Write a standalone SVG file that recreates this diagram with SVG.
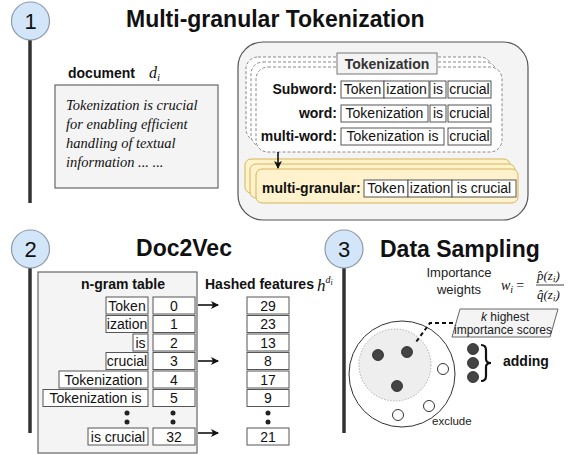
<svg xmlns="http://www.w3.org/2000/svg" width="570" height="455" viewBox="0 0 570 455">
<defs>
<style>
.sans{font-family:"Liberation Sans",Arial,sans-serif;}
.serif{font-family:"Liberation Serif","Times New Roman",serif;}
.title{font-family:"Liberation Sans",Arial,sans-serif;font-weight:bold;font-size:23px;fill:#111;}
.num{font-family:"Liberation Sans",Arial,sans-serif;font-size:22px;fill:#111;text-anchor:middle;}
.step{fill:#d3e5f8;stroke:#8c9aab;stroke-width:1.2;}
.spine{stroke:#333;stroke-width:3.5;fill:none;}
.lbl{font-family:"Liberation Sans",Arial,sans-serif;font-weight:bold;font-size:14px;fill:#111;}
.tok{fill:#fff;stroke:#555;stroke-width:1;}
.tt{font-family:"Liberation Sans",Arial,sans-serif;font-size:14px;fill:#111;text-anchor:middle;}
.gray{fill:#f4f4f4;stroke:#666;stroke-width:1.2;}
.dash{fill:#fff;stroke:#888;stroke-width:1;stroke-dasharray:3 2;}
.yel{fill:#fff2cc;stroke:#d6b656;stroke-width:1;}
.math{font-family:"Liberation Serif","Times New Roman",serif;font-style:italic;fill:#111;}
.conn{stroke:#111;stroke-width:1.6;fill:none;}
.dark{fill:#444;stroke:#222;stroke-width:0.8;}
.wdot{fill:#fff;stroke:#333;stroke-width:1;}
</style>
<marker id="ah" markerWidth="8" markerHeight="8" refX="7" refY="4" orient="auto" markerUnits="userSpaceOnUse">
<path d="M0,0 L8,4 L0,8 L2,4 Z" fill="#111"/>
</marker>
</defs>

<!-- Section 1 -->
<g id="step1">
<line class="spine" x1="30" y1="40" x2="30" y2="203"/>
<circle class="step" cx="30.5" cy="21" r="19"/>
<text class="num" x="30.5" y="29">1</text>
</g>
<text class="title" x="126" y="27">Multi-granular Tokenization</text>

<g id="document">
<text class="lbl" x="68" y="78" font-size="13">document</text>
<text class="math" x="149" y="78" font-size="16">d<tspan font-size="11" dy="3">i</tspan></text>
<rect class="gray" x="55" y="85" width="163" height="103"/>
<text class="math" font-size="14.5" x="66" y="110">Tokenization is crucial</text>
<text class="math" font-size="14.5" x="66" y="129">for enabling efficient</text>
<text class="math" font-size="14.5" x="66" y="148">handling of textual</text>
<text class="math" font-size="14.5" x="66" y="167">information ... ...</text>
</g>

<g id="tokenizer">
<rect x="238" y="42" width="290" height="178" rx="25" fill="#f4f4f4" stroke="#555" stroke-width="1.2"/>
<rect class="dash" x="246" y="57" width="246" height="84" rx="12"/>
<rect class="dash" x="251" y="62" width="246" height="85" rx="12"/>
<rect class="dash" x="256" y="67" width="246" height="85" rx="12"/>
<rect x="337" y="53" width="100" height="21" fill="#f4f4f4" stroke="#777" stroke-width="1"/>
<text class="lbl" x="387" y="69" text-anchor="middle" fill="#333" style="fill:#333">Tokenization</text>

<text class="lbl" x="337" y="94" text-anchor="end">Subword:</text>
<rect class="tok" x="341" y="81" width="43" height="17"/><text class="tt" x="362.5" y="94">Token</text>
<rect class="tok" x="384" y="81" width="45" height="17"/><text class="tt" x="406.5" y="94">ization</text>
<rect class="tok" x="430" y="81" width="16" height="17"/><text class="tt" x="438" y="94">is</text>
<rect class="tok" x="448" y="81" width="43" height="17"/><text class="tt" x="469.5" y="94">crucial</text>

<text class="lbl" x="337" y="118" text-anchor="end">word:</text>
<rect class="tok" x="341" y="105" width="87" height="17"/><text class="tt" x="384.5" y="118">Tokenization</text>
<rect class="tok" x="430" y="105" width="16" height="17"/><text class="tt" x="438" y="118">is</text>
<rect class="tok" x="448" y="105" width="43" height="17"/><text class="tt" x="469.5" y="118">crucial</text>

<text class="lbl" x="337" y="141" text-anchor="end">multi-word:</text>
<rect class="tok" x="341" y="128" width="103" height="17"/><text class="tt" x="392.5" y="141">Tokenization is</text>
<rect class="tok" x="448" y="128" width="43" height="17"/><text class="tt" x="469.5" y="141">crucial</text>

<rect class="yel" x="245" y="159" width="265" height="34" rx="6"/>
<rect class="yel" x="250" y="164" width="265" height="34" rx="6"/>
<rect class="yel" x="256" y="169" width="262" height="34" rx="6"/>
<text class="lbl" x="262" y="193">multi-granular:</text>
<rect class="tok" x="364" y="180" width="44" height="17"/><text class="tt" x="386" y="193">Token</text>
<rect class="tok" x="408" y="180" width="44" height="17"/><text class="tt" x="430" y="193">ization</text>
<rect class="tok" x="452" y="180" width="64" height="17"/><text class="tt" x="484" y="193">is crucial</text>
</g>

<!-- Section 2 -->
<g id="step2">
<line class="spine" x1="30" y1="268" x2="30" y2="433"/>
<circle class="step" cx="30.5" cy="249" r="19"/>
<text class="num" x="30.5" y="257">2</text>
</g>
<text class="title" x="184" y="256" text-anchor="middle">Doc2Vec</text>

<g id="ngram-table">
<rect class="gray" x="38" y="272" width="159" height="181"/>
<text class="lbl" x="123" y="289" text-anchor="middle" font-size="13">n-gram table</text>
<rect class="tok" x="106" y="297" width="42" height="17"/><text class="tt" x="127" y="310.5">Token</text>
<rect class="tok" x="106" y="315.5" width="42" height="17"/><text class="tt" x="127" y="329">ization</text>
<rect class="tok" x="133" y="334" width="15" height="17"/><text class="tt" x="140.5" y="347.5">is</text>
<rect class="tok" x="106" y="352.5" width="42" height="17"/><text class="tt" x="127" y="366">crucial</text>
<rect class="tok" x="59" y="371" width="89" height="17"/><text class="tt" x="103.5" y="384.5">Tokenization</text>
<rect class="tok" x="43" y="389.5" width="105" height="17"/><text class="tt" x="95.5" y="403">Tokenization is</text>
<rect class="tok" x="88" y="428" width="60" height="17"/><text class="tt" x="118" y="441.5">is crucial</text>
<circle cx="127" cy="413" r="2.5" fill="#222"/><circle cx="127" cy="422" r="2.5" fill="#222"/>

<rect class="tok" x="153" y="297" width="42" height="17"/><text class="tt" x="174" y="310.5">0</text>
<rect class="tok" x="153" y="315.5" width="42" height="17"/><text class="tt" x="174" y="329">1</text>
<rect class="tok" x="153" y="334" width="42" height="17"/><text class="tt" x="174" y="347.5">2</text>
<rect class="tok" x="153" y="352.5" width="42" height="17"/><text class="tt" x="174" y="366">3</text>
<rect class="tok" x="153" y="371" width="42" height="17"/><text class="tt" x="174" y="384.5">4</text>
<rect class="tok" x="153" y="389.5" width="42" height="17"/><text class="tt" x="174" y="403">5</text>
<rect class="tok" x="153" y="428" width="42" height="17"/><text class="tt" x="174" y="441.5">32</text>
<circle cx="173" cy="413" r="2.5" fill="#222"/><circle cx="173" cy="422" r="2.5" fill="#222"/>
</g>

<g id="hashed-features">
<text class="lbl" x="205" y="289" font-size="13">Hashed features</text>
<text class="math" x="317" y="291" font-size="17">h<tspan font-size="10" dy="-8">d</tspan><tspan font-size="8" dy="2">i</tspan></text>
<rect class="tok" x="247" y="297" width="42" height="17"/><text class="tt" x="268" y="310.5">29</text>
<rect class="tok" x="247" y="315.5" width="42" height="17"/><text class="tt" x="268" y="329">23</text>
<rect class="tok" x="247" y="334" width="42" height="17"/><text class="tt" x="268" y="347.5">13</text>
<rect class="tok" x="247" y="352.5" width="42" height="17"/><text class="tt" x="268" y="366">8</text>
<rect class="tok" x="247" y="371" width="42" height="17"/><text class="tt" x="268" y="384.5">17</text>
<rect class="tok" x="247" y="389.5" width="42" height="17"/><text class="tt" x="268" y="403">9</text>
<rect class="tok" x="247" y="428" width="42" height="17"/><text class="tt" x="268" y="441.5">21</text>
<circle cx="268" cy="413" r="2.5" fill="#222"/><circle cx="268" cy="422" r="2.5" fill="#222"/>
</g>

<!-- Section 3 -->
<g id="step3">
<line class="spine" x1="344" y1="268" x2="344" y2="433"/>
<circle class="step" cx="344" cy="249" r="19"/>
<text class="num" x="344" y="257">3</text>
</g>
<text class="title" x="380" y="257">Data Sampling</text>

<g id="importance">
<text class="sans" x="459" y="277" font-size="13" text-anchor="middle" fill="#222">Importance</text>
<text class="sans" x="459" y="294" font-size="13" text-anchor="middle" fill="#222">weights</text>
<text class="math" x="501" y="290" font-size="14">w<tspan font-size="10" dy="3">i</tspan><tspan dy="-3" font-style="normal" dx="3">=</tspan></text>
<text class="math" x="537" y="280" font-size="13">p̂(z<tspan font-size="9" dy="2">i</tspan><tspan dy="-2">)</tspan></text>
<line x1="536" y1="285" x2="564" y2="285" stroke="#111" stroke-width="0.8"/>
<text class="math" x="537" y="299" font-size="13">q̂(z<tspan font-size="9" dy="2">i</tspan><tspan dy="-2">)</tspan></text>
</g>

<g id="topk">
<polygon points="460,309 558,309 550,337 452,337" fill="#f4f4f4" stroke="#666" stroke-width="1"/>
<text class="sans" x="505" y="321" font-size="12" text-anchor="middle" fill="#222"><tspan font-style="italic">k</tspan> highest</text>
<text class="sans" x="503" y="334" font-size="12" text-anchor="middle" fill="#222">importance scores</text>
</g>

<g id="pool">
<circle cx="402" cy="374" r="53" fill="#fff" stroke="#333" stroke-width="1"/>
<circle cx="395" cy="365" r="36" fill="#eeeeee" stroke="#999" stroke-width="0.8" stroke-dasharray="1.5 1.5"/>
<circle class="dark" cx="378" cy="355" r="5.5"/>
<circle class="dark" cx="407" cy="352" r="5.5"/>
<circle class="dark" cx="397" cy="386" r="5.5"/>
<circle class="wdot" cx="443" cy="369" r="5.5"/>
<circle class="wdot" cx="429" cy="406" r="5.5"/>
<circle class="wdot" cx="398" cy="415" r="5.5"/>
<text class="sans" x="432" y="425" font-size="11.5" fill="#222">exclude</text>
</g>

<g id="adding">
<circle class="dark" cx="473" cy="349" r="5.5"/>
<circle class="dark" cx="473" cy="363" r="5.5"/>
<circle class="dark" cx="473" cy="377" r="5.5"/>
<path d="M481,345 Q486,345 486,350 L486,359 Q486,363 491,363 Q486,363 486,367 L486,376 Q486,381 481,381" fill="none" stroke="#111" stroke-width="2.2"/>
<text class="lbl" x="503" y="366" font-size="13">adding</text>
</g>

<g id="connectors">
<line class="conn" x1="278" y1="152" x2="278" y2="168" marker-end="url(#ah)"/>
<line class="conn" x1="198" y1="305" x2="218" y2="305" marker-end="url(#ah)"/>
<line class="conn" x1="198" y1="361" x2="218" y2="361" marker-end="url(#ah)"/>
<line class="conn" x1="198" y1="433" x2="218" y2="433" marker-end="url(#ah)"/>
<polyline points="453,323 430,323 416,342" fill="none" stroke="#111" stroke-width="2" stroke-dasharray="4 3"/>
</g>
</svg>
